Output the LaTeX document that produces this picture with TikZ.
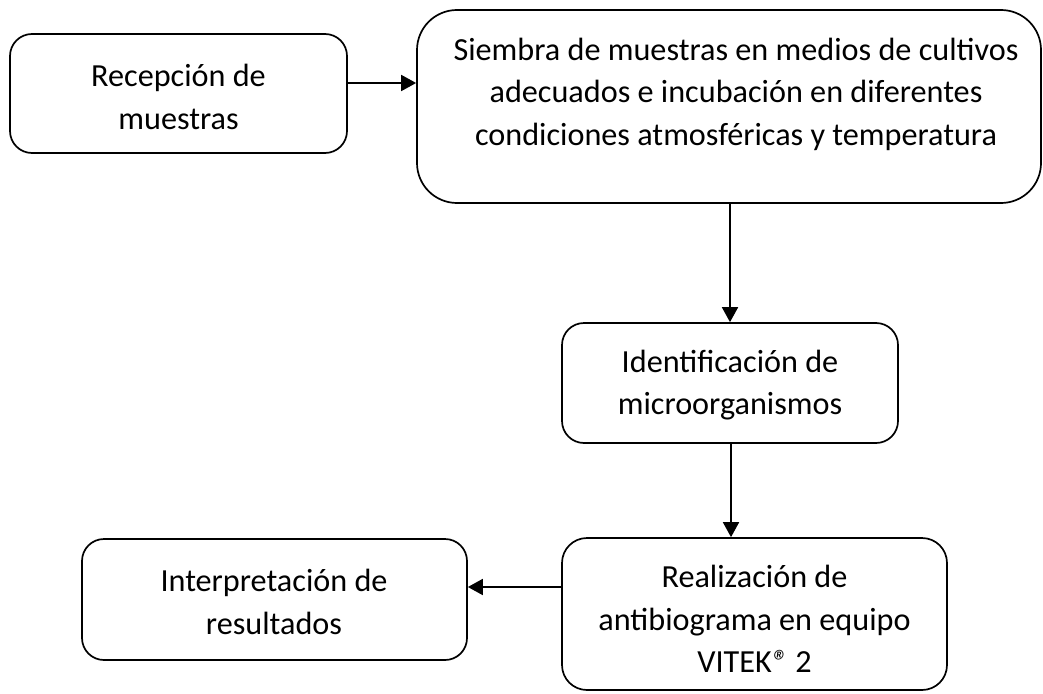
\documentclass[tikz,border=0pt]{standalone}
\usepackage{fontspec}
\setmainfont{Carlito}
\usetikzlibrary{arrows.meta}
\begin{document}
\begin{tikzpicture}[x=1pt,y=-1pt,
  box/.style={draw, line width=1.7pt, inner sep=0pt},
  txt/.style={align=center, inner sep=0pt, font=\fontsize{32.2}{42.5}\selectfont},
  arr/.style={line width=1.8pt, -{Triangle[length=15pt,width=16pt]}}]
\useasboundingbox (0,0) rectangle (1043,693);
% boxes
\node[box, rounded corners=22pt, minimum width=337pt, minimum height=119pt] (A) at (178.5,93.5) {};
\node[box, rounded corners=40pt, minimum width=624pt, minimum height=193pt] (B) at (729,106.5) {};
\node[box, rounded corners=22pt, minimum width=336pt, minimum height=120pt] (C) at (730,383) {};
\node[box, rounded corners=25pt, minimum width=385pt, minimum height=152pt] (D) at (754.5,614) {};
\node[box, rounded corners=22pt, minimum width=385pt, minimum height=121pt] (E) at (274.5,599.5) {};
% texts
\node[txt] (At) at (178.5,97) {Recepción de\\muestras};
\node[txt] (Bt) at (736,94) {Siembra de muestras en medios de cultivos\\adecuados e incubación en diferentes\\condiciones atmosféricas y temperatura};
\node[txt] (Ct) at (730,385) {Identificación de\\microorganismos};
\node[txt] (Dt) at (754.5,619) {Realización de\\antibiograma en equipo\\VITEK{\itshape ®} 2};
\node[txt] (Et) at (274,602) {Interpretación de\\resultados};
% connectors
\draw[arr] (A.east |- 0,83) -- (B.west |- 0,83);
\draw[arr] (B.south -| 730,0) -- (C.north -| 730,0);
\draw[arr] (C.south -| 731,0) -- (D.north -| 731,0);
\draw[arr] (D.west |- 0,587) -- (E.east |- 0,587);
\end{tikzpicture}
\end{document}
